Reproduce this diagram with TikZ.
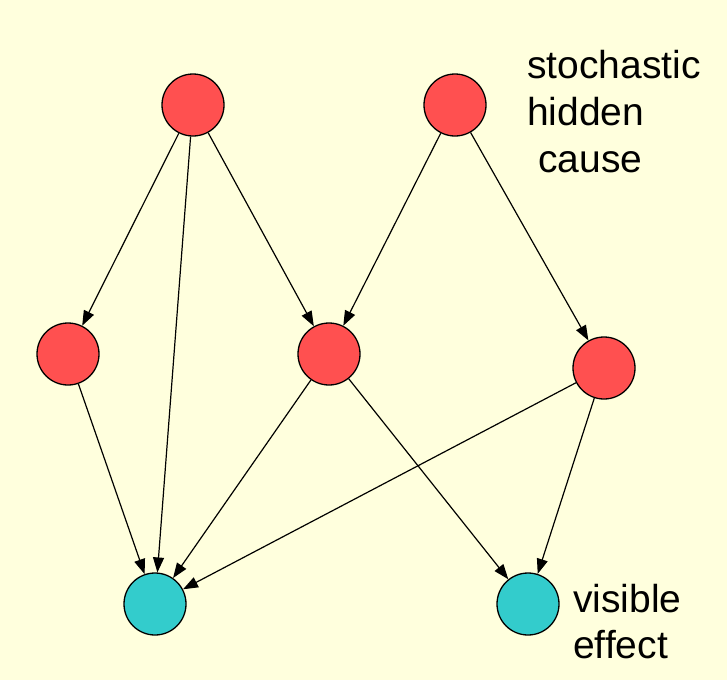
\documentclass[tikz,border=0pt]{standalone}
\usepackage{fontspec}
\setmainfont{Liberation Sans}
\usetikzlibrary{arrows.meta}
\definecolor{bg}{HTML}{FFFFDD}
\definecolor{hid}{HTML}{FF5050}
\definecolor{vis}{HTML}{33CCCC}
\begin{document}
\begin{tikzpicture}[x=1pt,y=-1pt,
  hidnode/.style={circle,draw=black,line width=1.3pt,fill=hid,minimum size=62pt,inner sep=0pt},
  visnode/.style={circle,draw=black,line width=1.3pt,fill=vis,minimum size=62pt,inner sep=0pt},
  lbl/.style={anchor=base west,inner sep=0pt,font=\fontsize{39}{46}\selectfont},
  edge/.style={draw=black,line width=1.2pt,-{Triangle[length=15pt,width=11pt]}}]
\fill[bg] (0,0) rectangle (727,680);
\useasboundingbox (0,0) rectangle (727,680);
\node[hidnode] (A) at (193,105) {};
\node[hidnode] (B) at (455,105) {};
\node[hidnode] (C) at (68,354) {};
\node[hidnode] (D) at (329,354) {};
\node[hidnode] (E) at (604,368) {};
\node[visnode] (F) at (155,604) {};
\node[visnode] (G) at (528,604) {};
\draw[edge] (A) -- (C);
\draw[edge] (A) -- (F);
\draw[edge] (A) -- (D);
\draw[edge] (B) -- (D);
\draw[edge] (B) -- (E);
\draw[edge] (C) -- (F);
\draw[edge] (D) -- (F);
\draw[edge] (D) -- (G);
\draw[edge] (E) -- (F);
\draw[edge] (E) -- (G);
\node[lbl] (t1) at (527,78) {stochastic};
\node[lbl] (t2) at (527,125) {hidden};
\node[lbl] (t3) at (538,172) {cause};
\node[lbl] (t4) at (573,612) {visible};
\node[lbl] (t5) at (573,658) {effect};
\end{tikzpicture}
\end{document}
